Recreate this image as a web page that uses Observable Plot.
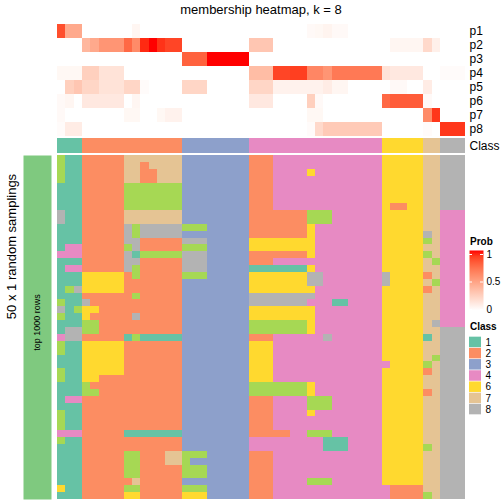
<!DOCTYPE html>
<html>
<head>
<meta charset="utf-8">
<script src="https://cdn.jsdelivr.net/npm/d3@7"></script>
<script src="https://cdn.jsdelivr.net/npm/@observablehq/plot@0.6"></script>
<style>
html, body { margin: 0; padding: 0; background: #fff; }
#chart { position: relative; width: 504px; height: 504px; overflow: hidden; background: #fff;
  font-family: "Liberation Sans", Arial, Helvetica, sans-serif; color: #000; }
#chart > * { position: absolute; }
.title { font-size: 13px; line-height: 15px; text-align: center; white-space: nowrap; }
.legtitle { font-size: 10px; font-weight: bold; line-height: 12px; white-space: nowrap; }
</style>
</head>
<body>
<div id="chart"></div>
<script>
// ---------------- data ----------------
const titleText = "membership heatmap, k = 8";
const rowTitle = "50 x 1 random samplings";
const blockLabel = "top 1000 rows";

const classIds = [1, 2, 3, 4, 5, 6, 7, 8];
const classColors = ["#66C2A5", "#FC8D62", "#8DA0CB", "#E78AC3", "#A6D854", "#FFD92F", "#E5C494", "#B3B3B3"];
const legendClasses = [1, 2, 3, 4, 6, 7, 8];
const probTicks = [0, 0.5, 1];
const probNames = ["p1", "p2", "p3", "p4", "p5", "p6", "p7", "p8"];

// consensus class of each of the 49 samples
const classes = [
  1, 1, 1,
  2, 2, 2, 2, 2, 2, 2, 2, 2, 2, 2, 2,
  3, 3, 3, 3, 3, 3, 3, 3,
  4, 4, 4, 4, 4, 4, 4, 4, 4, 4, 4, 4, 4, 4, 4, 4,
  6, 6, 6, 6, 6,
  7, 7,
  8, 8, 8
];

// membership probabilities (49 samples each)
const p1 = [0.85,0.45,0.45, 0,0,0,0,0, 0,0.05,0,0,0,0,0, 0,0,0, 0,0,0,0,0, 0,0,0, 0,0,0,0,
  0.03,0.04,0.06,0.03,0.03,0,0,0,0, 0,0,0,0,0, 0,0, 0,0,0];
const p2 = [0,0,0, 0.38,0.45,0.55,0.55,0.55, 0.75,0.6,0.95,1,0.93,0.88,0.88, 0,0,0, 0,0,0,0,0, 0.3,0.3,0.3, 0,0,0,0,
  0,0,0,0,0,0,0,0,0, 0,0.05,0.05,0.05,0.05, 0.2,0.08, 0,0,0];
const p3 = [0,0,0, 0,0,0,0,0, 0,0,0,0,0,0,0, 0.78,0.78,0.78, 1,1,1,1,1, 0,0,0, 0,0,0,0,
  0,0,0,0,0,0,0,0,0, 0,0,0,0,0, 0,0, 0,0,0];
const p4 = [0.04,0.04,0.04, 0.25,0.25,0.15,0.15,0.15, 0,0,0,0,0,0,0, 0,0,0, 0,0,0,0,0, 0.35,0.35,0.35, 0.88,0.88,0.9,0.9,
  0.62,0.62,0.55,0.68,0.68,0.68,0.68,0.68,0.68, 0.15,0.12,0.12,0.12,0.12, 0,0, 0.02,0.02,0.02];
const p5 = [0,0.25,0.3, 0.22,0.22,0.15,0.15,0.15, 0.22,0.22,0.02,0,0,0,0, 0.22,0.22,0.22, 0,0,0,0,0, 0.22,0.22,0.22, 0.07,0.07,0.07,0.07,
  0.07,0.07,0.1,0.05,0.05,0,0,0,0, 0,0.03,0.03,0,0, 0.1,0, 0,0,0];
const p6 = [0.03,0.05,0, 0.12,0.12,0.12,0.12,0.12, 0,0.05,0,0,0,0,0, 0,0,0, 0,0,0,0,0, 0.12,0.12,0.12, 0,0,0,0,
  0.25,0.03,0,0,0,0,0,0,0, 0.75,0.8,0.8,0.8,0.8, 0.03,0, 0,0,0];
const p7 = [0.03,0,0, 0,0,0,0,0, 0.04,0.04,0,0,0.04,0.07,0.07, 0,0,0, 0,0,0,0,0, 0,0,0, 0,0,0,0,
  0.04,0.04,0,0,0,0,0,0,0, 0,0,0,0,0, 0.6,0.92, 0,0,0];
const p8 = [0.02,0.1,0.1, 0,0,0,0,0, 0,0,0,0,0,0,0, 0,0,0, 0,0,0,0,0, 0,0,0, 0,0,0,0,
  0.02,0.2,0.28,0.28,0.28,0.28,0.28,0.28,0.28, 0,0,0,0,0, 0.02,0, 0.92,0.92,0.92];

// class assigned to each sample in each of the 50 random samplings
const samplings = [
  "5 11 22222 7777777 333 33333 222 4444 444444444 66666 77 888",
  "5 11 22222 7727777 333 33333 222 4444 444444444 66666 77 888",
  "5 11 22222 7722777 333 33333 222 4444 644444444 66666 77 888",
  "5 11 22222 7722777 333 33333 222 4444 444444444 66666 77 888",
  "1 11 22222 5555555 333 33333 222 4444 444444444 66666 77 888",
  "1 11 22222 5555555 333 33333 222 4444 444444444 66666 77 888",
  "1 11 22222 5555555 333 33333 222 4444 444444444 66666 77 888",
  "1 11 22222 5555555 333 33333 222 4444 444444444 62266 77 888",
  "8 11 22222 7777777 333 33333 222 2222 555444444 66666 77 444",
  "8 11 22222 7777777 333 33333 222 2222 555444444 66666 77 444",
  "1 11 22222 8588888 555 33333 222 2222 644444444 66666 77 444",
  "1 11 22222 8588888 333 33333 222 2222 644444444 66666 87 444",
  "1 11 22222 8822222 888 33333 666 6666 644444444 66666 57 444",
  "1 44 22222 5822222 555 33333 666 6666 644444444 66666 77 444",
  "4 44 22222 8155555 888 33333 222 2222 644444444 66666 57 444",
  "1 11 22222 8822222 888 33333 222 4444 444444444 66666 75 444",
  "1 44 22222 8522222 888 33333 111 1111 644444444 66666 77 444",
  "1 11 66666 2522222 555 33333 666 6666 884444444 86666 27 444",
  "1 11 66666 2222222 333 33333 666 6666 884444444 86666 75 444",
  "1 58 66666 2222222 333 33333 666 6666 644444444 66666 27 444",
  "1 11 22222 2522222 333 33333 888 8888 844444444 66666 77 444",
  "5 11 82222 2222222 333 33333 888 8888 444114444 66666 77 444",
  "8 15 66222 2222222 333 33333 666 6666 644444444 66666 77 444",
  "5 11 62222 2822222 333 33333 666 6666 644444444 66666 77 444",
  "1 11 55222 2222222 333 33333 555 5555 644444444 66666 78 444",
  "1 88 55222 2222222 333 33333 555 5555 644444444 66666 77 888",
  "4 88 22222 1511111 333 33333 222 4444 448444444 66666 17 888",
  "5 11 66666 2222222 333 33333 666 4444 444444444 66666 77 888",
  "5 11 66666 2222222 333 33333 666 4444 444444444 66666 77 888",
  "1 11 66666 2222222 333 33333 666 4444 444444444 66666 75 888",
  "1 11 66666 2222222 333 33333 666 4444 444444444 46666 57 888",
  "5 11 66666 2222222 333 33333 666 4444 444444444 66666 27 888",
  "5 11 66222 2222222 333 33333 666 4444 444444444 66666 77 888",
  "1 11 52222 2222222 333 33333 555 5555 644444444 66666 77 888",
  "1 11 55222 2222222 333 33333 555 5555 644444444 66666 27 888",
  "1 44 22222 2222222 333 33333 222 4444 555444444 66666 77 888",
  "1 11 22222 2222222 333 33333 222 4444 555444444 66666 77 888",
  "5 11 22222 2222222 333 33333 222 4444 644444444 66666 77 888",
  "5 11 22222 2222222 333 33333 222 4444 444444444 66666 77 888",
  "5 11 22222 2222222 333 33333 222 4444 444444444 66666 77 888",
  "4 44 22222 1111111 333 33333 222 2244 555444444 66666 77 888",
  "5 11 22222 2222222 333 33333 444 4444 441114444 66666 77 888",
  "1 11 22222 2222222 333 33333 444 4444 441114444 66666 57 888",
  "1 11 22222 5522277 555 33333 222 4444 444444444 66666 77 888",
  "1 11 22222 5522277 533 33333 222 4444 444444444 66666 77 888",
  "1 11 22222 5522222 555 33333 222 4444 444444444 66666 77 888",
  "1 11 22222 5522222 555 33333 222 4444 444444444 66666 77 888",
  "1 11 22222 2722222 333 33333 222 4444 555444444 66666 77 888",
  "6 11 22222 5522222 555 33333 222 4444 444444444 42222 77 888",
  "1 11 22222 6622222 666 33333 222 4444 444444444 42222 57 888"
];

// ---------------- build ----------------
const font = "'Liberation Sans', Arial, Helvetica, sans-serif";
const baseStyle = {fontFamily: font, fontSize: "12px", background: "transparent", color: "black", overflow: "visible"};
const chart = document.getElementById("chart");
function place(node, left, top) {
  node.style.position = "absolute";
  node.style.left = left + "px";
  node.style.top = top + "px";
  chart.appendChild(node);
  return node;
}

const columns = classes.map((c, j) => j);
const classScale = {type: "ordinal", domain: classIds, range: classColors};
const probRows = [p1, p2, p3, p4, p5, p6, p7, p8];
const bandX = {type: "band", domain: columns, padding: 0, round: false, axis: null};

// title
const t = document.createElement("div");
t.className = "title";
t.textContent = titleText;
t.style.width = "408px";
place(t, 57, 2);

// probability heatmap
const probData = probRows.flatMap((vals, i) => vals.map((v, j) => ({row: probNames[i], col: j, value: v})));
place(Plot.plot({
  width: 447, height: 112,
  marginTop: 0, marginBottom: 0, marginLeft: 0, marginRight: 39,
  style: baseStyle,
  x: bandX,
  y: {type: "band", domain: probNames, padding: 0, round: false, axis: "right", tickSize: 0, tickPadding: 4, label: null},
  color: {type: "linear", domain: [0, 1], range: ["white", "red"], interpolate: "lab"},
  marks: [
    Plot.cell(probData, {x: "col", y: "row", fill: "value", shapeRendering: "crispEdges"})
  ]
}), 57, 24);

// class annotation row
const classData = classes.map((c, j) => ({col: j, cls: c, row: "Class"}));
place(Plot.plot({
  width: 447, height: 15,
  marginTop: 0, marginBottom: 0, marginLeft: 0, marginRight: 39,
  style: baseStyle,
  x: bandX,
  y: {type: "band", domain: ["Class"], padding: 0, round: false, axis: "right", tickSize: 0, tickPadding: 4, label: null},
  color: classScale,
  marks: [
    Plot.cell(classData, {x: "col", y: "row", fill: "cls", shapeRendering: "crispEdges"})
  ]
}), 57, 138);

// membership grid
const rowsIdx = samplings.map((s, i) => i);
const gridData = samplings.flatMap((s, i) =>
  s.replace(/ /g, "").split("").map((ch, j) => ({row: i, col: j, cls: +ch})));
place(Plot.plot({
  width: 408, height: 344, margin: 0,
  style: baseStyle,
  x: bandX,
  y: {type: "band", domain: rowsIdx, padding: 0, round: false, axis: null},
  color: classScale,
  marks: [
    Plot.cell(gridData, {x: "col", y: "row", fill: "cls", shapeRendering: "crispEdges"})
  ]
}), 57, 155);

// left block annotation
place(Plot.plot({
  width: 28, height: 344, marginTop: 0, marginLeft: 0, marginRight: 0, marginBottom: 10,
  style: baseStyle,
  marks: [
    Plot.frame({fill: "#7FC97F", stroke: "none", insetBottom: -10}),
    Plot.text([blockLabel], {text: d => d, frameAnchor: "middle", rotate: -90, fontSize: 9, fill: "black"})
  ]
}), 23, 155);

// row title
place(Plot.plot({
  width: 22, height: 292, margin: 0,
  style: baseStyle,
  marks: [
    Plot.text([rowTitle], {text: d => d, frameAnchor: "middle", rotate: -90, fontSize: 13, fill: "black"})
  ]
}), 0, 100);

// legend: Prob
const pt = document.createElement("div");
pt.className = "legtitle";
pt.textContent = "Prob";
place(pt, 470, 236);

const probLegend = Plot.plot({
  width: 38, height: 80,
  marginLeft: 3, marginRight: 21, marginTop: 19, marginBottom: 6,
  style: baseStyle,
  y: {domain: [0, 1], axis: null},
  marks: [
    Plot.frame({fill: "url(#probGradient)", stroke: "none", insetTop: -4, insetBottom: -1}),
    Plot.tickY(probTicks, {y: d => d, stroke: "white", insetRight: 11}),
    Plot.tickY(probTicks, {y: d => d, stroke: "white", insetLeft: 11}),
    Plot.text(probTicks, {y: d => d, text: d => String(d), frameAnchor: "right", textAnchor: "start", dx: 3, fontSize: 10, fill: "black"})
  ]
});
const ramp = d3.interpolateLab("white", "red");
const grad = d3.select(probLegend).insert("defs", ":first-child")
  .append("linearGradient").attr("id", "probGradient")
  .attr("x1", 0).attr("y1", 1).attr("x2", 0).attr("y2", 0);
d3.range(0, 11).forEach(k => grad.append("stop").attr("offset", k / 10).attr("stop-color", ramp(k / 10)));
place(probLegend, 466, 235);

// legend: Class
const ct = document.createElement("div");
ct.className = "legtitle";
ct.textContent = "Class";
place(ct, 470, 321);

place(Plot.plot({
  width: 38, height: 79,
  marginLeft: 3, marginRight: 23, marginTop: 0, marginBottom: 0,
  style: baseStyle,
  y: {type: "band", domain: legendClasses, padding: 0.06, round: false, axis: null},
  color: classScale,
  marks: [
    Plot.cell(legendClasses, {y: d => d, fill: d => d}),
    Plot.text(legendClasses, {y: d => d, text: d => String(d), frameAnchor: "right", textAnchor: "start", dx: 4, fontSize: 10, fill: "black"})
  ]
}), 466, 336);
</script>
</body>
</html>
